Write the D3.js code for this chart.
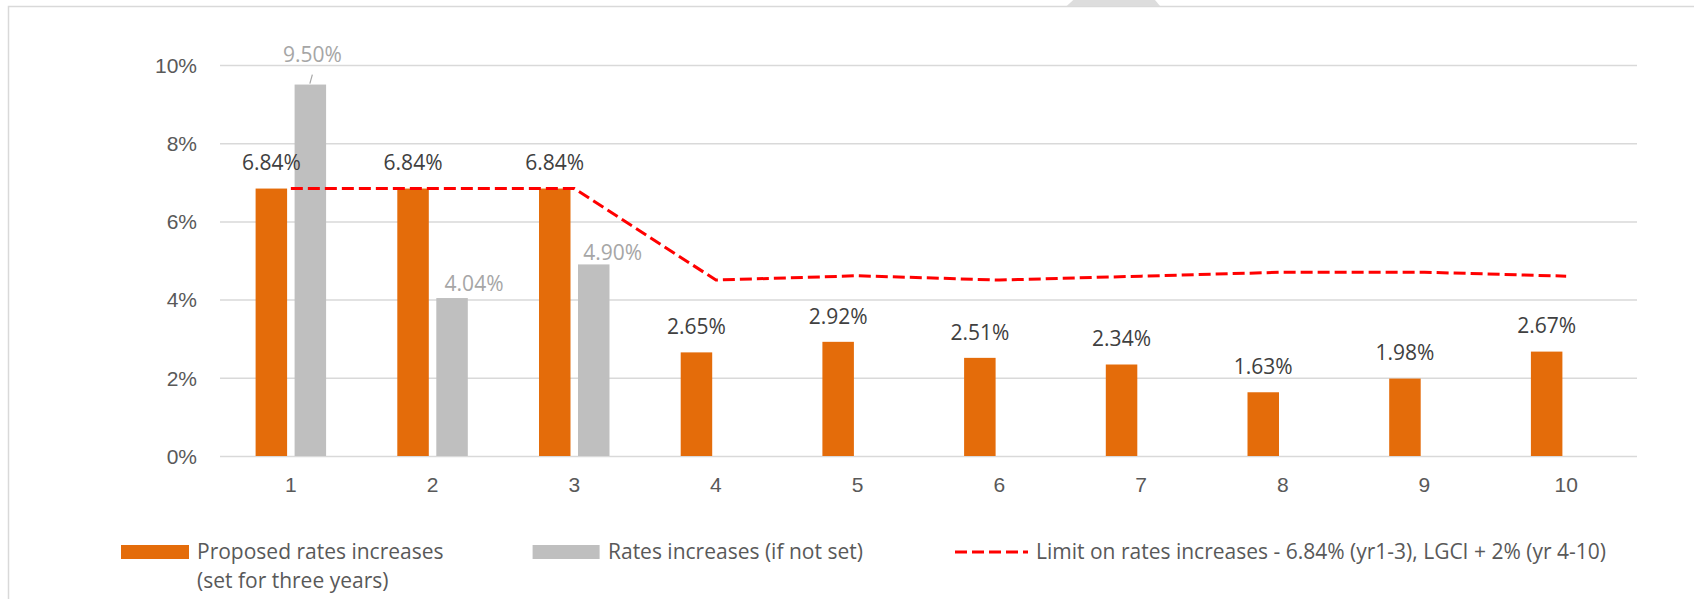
<!DOCTYPE html>
<html>
<head>
<meta charset="UTF-8">
<style>
  body { margin: 0; background: #fff; }
  svg { display: block; background: #fff; font-family: "Open Sans", sans-serif; }
  .tick text { fill: #595959; font-size: 21px; }
  .lbl { font-size: 21px; text-anchor: middle; }
  .legend text { fill: #595959; font-size: 21px; }
</style>
</head>
<body>
<svg></svg>
<script src="https://cdn.jsdelivr.net/npm/d3@7"></script>
<script>

// chart values
const years = ["1", "2", "3", "4", "5", "6", "7", "8", "9", "10"];
const proposedRates = [6.84, 6.84, 6.84, 2.65, 2.92, 2.51, 2.34, 1.63, 1.98, 2.67];
const ratesIfNotSet = [9.50, 4.04, 4.90, null, null, null, null, null, null, null];
const rateLimit = [6.84, 6.84, 6.84, 4.50, 4.61, 4.50, 4.60, 4.70, 4.70, 4.60];
const yTickValues = [0, 2, 4, 6, 8, 10];
const legendLabels = [
  ["Proposed rates increases", "(set for three years)"],
  ["Rates increases (if not set)"],
  ["Limit on rates increases - 6.84% (yr1-3), LGCI + 2% (yr 4-10)"]
];

const width = 1694, height = 599;
const orange = "#E46C0A", grey = "#BFBFBF", red = "#FF0000";

const svg = d3.select("svg")
    .attr("width", width)
    .attr("height", height);

// outer frame + little tab at the top
svg.append("rect")
    .attr("x", 8.5).attr("y", 6.5)
    .attr("width", width).attr("height", height)
    .attr("fill", "none")
    .attr("stroke", "#D9D9D9")
    .attr("stroke-width", 1.5);
svg.append("path")
    .attr("d", "M1066.7,6L1073.3,0L1155,0L1160,6Z")
    .attr("fill", "#DDDDDD");

const plotLeft = 220, plotRight = 1637;

let x = d3.scaleBand()
    .domain(years)
    .range([plotLeft, plotRight]);

// two bars per year, the second one only for yr 1-3
const clusterW = 70.5;
let xSub = d3.scaleBand()
    .domain(["proposed", "notSet"])
    .range([(x.bandwidth() - clusterW) / 2, (x.bandwidth() + clusterW) / 2])
    .paddingInner(7.5 / 39);

let y = d3.scaleLinear()
    .domain([0, 10])
    .range([456, 65]);

// y axis with gridlines
const yAxis = svg.append("g")
    .attr("transform", "translate(" + plotLeft + ",0)")
    .call(d3.axisLeft(y)
        .tickValues(yTickValues)
        .tickSize(-(plotRight - plotLeft))
        .tickPadding(23)
        .tickFormat(d => d + "%"));
yAxis.select(".domain").remove();
yAxis.selectAll(".tick line")
    .attr("stroke", "#D9D9D9")
    .attr("stroke-width", 1.5);
yAxis.selectAll(".tick text").attr("dy", "0.35em");

// x axis labels
const xAxis = svg.append("g")
    .attr("transform", "translate(0," + y(0) + ")")
    .call(d3.axisBottom(x).tickSize(0).tickPadding(21));
xAxis.select(".domain").remove();

// bars
svg.append("g")
    .selectAll("rect")
    .data(proposedRates)
    .enter()
    .append("rect")
    .attr("x", (d, i) => x(years[i]) + xSub("proposed"))
    .attr("y", d => y(d))
    .attr("width", xSub.bandwidth())
    .attr("height", d => y(0) - y(d))
    .attr("fill", orange);

const greyData = ratesIfNotSet
    .map((v, i) => ({ year: years[i], v: v }))
    .filter(d => d.v !== null);

svg.append("g")
    .selectAll("rect")
    .data(greyData)
    .enter()
    .append("rect")
    .attr("x", d => x(d.year) + xSub("notSet"))
    .attr("y", d => y(d.v))
    .attr("width", xSub.bandwidth())
    .attr("height", d => y(0) - y(d.v))
    .attr("fill", grey);

// limit line
const line = d3.line()
    .x((d, i) => x(years[i]) + x.bandwidth() / 2)
    .y(d => y(d));

svg.append("path")
    .datum(rateLimit)
    .attr("d", line)
    .attr("fill", "none")
    .attr("stroke", red)
    .attr("stroke-width", 3)
    .attr("stroke-dasharray", "12,5");

// data labels
svg.append("g")
    .selectAll("text")
    .data(proposedRates)
    .enter()
    .append("text")
    .attr("class", "lbl")
    .attr("x", (d, i) => x(years[i]) + xSub("proposed") + xSub.bandwidth() / 2)
    .attr("y", d => y(d) - 25.5)
    .attr("dy", "0.35em")
    .attr("fill", "#404040")
    .text(d => d.toFixed(2) + "%");

// grey labels were dragged around a bit in the original
const greyNudge = [[2, -30], [22, -14.5], [19, -12]];
svg.append("g")
    .selectAll("text")
    .data(greyData)
    .enter()
    .append("text")
    .attr("class", "lbl")
    .attr("x", (d, i) => x(d.year) + xSub("notSet") + xSub.bandwidth() / 2 + greyNudge[i][0])
    .attr("y", (d, i) => y(d.v) + greyNudge[i][1])
    .attr("dy", "0.35em")
    .attr("fill", "#A6A6A6")
    .text(d => d.v.toFixed(2) + "%");

// leader line for the 9.50% label
const g0 = greyData[0];
const gx = x(g0.year) + xSub("notSet") + xSub.bandwidth() / 2;
svg.append("line")
    .attr("x1", gx - 0.5).attr("y1", y(g0.v) - 1)
    .attr("x2", gx + 2).attr("y2", y(g0.v) - 10)
    .attr("stroke", "#A6A6A6")
    .attr("stroke-width", 1.2);

// legend
const legend = svg.append("g").attr("class", "legend");
const legX = [121, 532.6, 955];
const legY = 552;

legend.append("rect")
    .attr("x", legX[0]).attr("y", legY - 7)
    .attr("width", 68).attr("height", 14)
    .attr("fill", orange);
legend.append("rect")
    .attr("x", legX[1]).attr("y", legY - 7)
    .attr("width", 67).attr("height", 14)
    .attr("fill", grey);
legend.append("line")
    .attr("x1", legX[2]).attr("x2", legX[2] + 73)
    .attr("y1", legY).attr("y2", legY)
    .attr("stroke", red)
    .attr("stroke-width", 3)
    .attr("stroke-dasharray", "12,5");

const textX = [197, 608, 1036];
legendLabels.forEach((lines, k) => {
  lines.forEach((t, j) => {
    legend.append("text")
        .attr("x", textX[k])
        .attr("y", legY + j * 29)
        .attr("dy", "0.35em")
        .text(t);
  });
});

</script>
</body>
</html>
